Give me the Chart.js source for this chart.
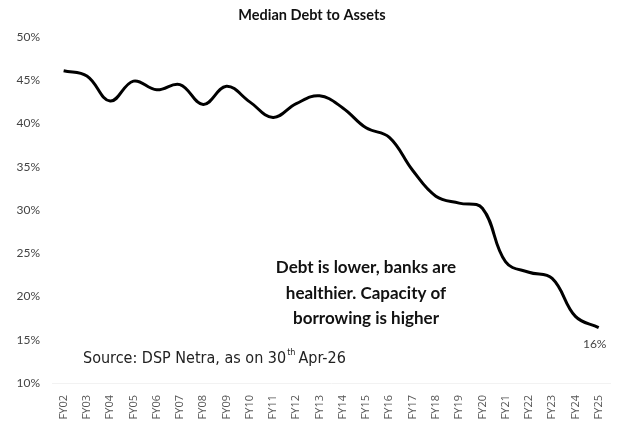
<!DOCTYPE html>
<html>
<head>
<meta charset="utf-8">
<script src="https://cdn.jsdelivr.net/npm/chart.js@4.4.1/dist/chart.umd.min.js"></script>
<style>
  html, body { margin: 0; padding: 0; background: #fff; }
  #wrap { width: 624px; height: 441px; }
</style>
</head>
<body>
<div id="wrap"><canvas id="debtChart" width="624" height="441"></canvas></div>
<script>
// Data
const years = ['FY02', 'FY03', 'FY04', 'FY05', 'FY06', 'FY07', 'FY08', 'FY09', 'FY10', 'FY11', 'FY12', 'FY13',
    'FY14', 'FY15', 'FY16', 'FY17', 'FY18', 'FY19', 'FY20', 'FY21', 'FY22', 'FY23', 'FY24', 'FY25'];
const debtToAssets = [46.1, 45.5, 42.6, 44.9, 43.9, 44.5, 42.2, 44.3, 42.5, 40.7, 42.3, 43.2,
    41.8, 39.5, 38.4, 34.6, 31.6, 30.8, 30.2, 24.0, 22.8, 22.1, 17.7, 16.4];
const yTicks = [10, 15, 20, 25, 30, 35, 40, 45, 50];
const chartTitle = 'Median Debt to Assets';
const noteLines = ['Debt is lower, banks are', 'healthier. Capacity of', 'borrowing is higher'];

// Text overlays: title, the note, the source line and the last value label
const overlayText = {
    id: 'overlayText',
    afterDraw(chart) {
        const ctx = chart.ctx;
        const x = chart.scales.x;
        const y = chart.scales.y;
        ctx.save();

        // title
        ctx.fillStyle = '#111';
        ctx.font = 'bold 14.5px Lato';
        ctx.textAlign = 'center';
        ctx.textBaseline = 'middle';
        ctx.fillText(chartTitle, 312, 15);

        // note in the middle
        ctx.font = 'bold 17px Lato';
        noteLines.forEach(function(line, i) {
            ctx.fillText(line, 366, 268 + i * 25.5);
        });

        // source line with superscript
        ctx.textAlign = 'left';
        ctx.textBaseline = 'alphabetic';
        ctx.fillStyle = '#222';
        const srcFont = '16px "DejaVu Sans Condensed"';
        ctx.font = srcFont;
        let sx = 83;
        const base = 363;
        const part1 = 'Source: DSP Netra, as on 30';
        ctx.fillText(part1, sx, base);
        sx += ctx.measureText(part1).width;
        ctx.font = '9px "DejaVu Sans Condensed"';
        ctx.fillText('th', sx + 1, base - 8);
        sx += ctx.measureText('th').width + 4;
        ctx.font = srcFont;
        ctx.fillText('Apr-26', sx, base);

        // last value label
        const last = debtToAssets.length - 1;
        ctx.font = '12px Lato';
        ctx.fillStyle = '#444';
        ctx.textAlign = 'center';
        ctx.textBaseline = 'middle';
        ctx.fillText(Math.round(debtToAssets[last]) + '%', x.getPixelForValue(last) - 4, y.getPixelForValue(debtToAssets[last]) + 16);

        ctx.restore();
    }
};

const ctxDebt = document.getElementById('debtChart').getContext('2d');
const debtChart = new Chart(ctxDebt, {
    type: 'line',
    data: {
        labels: years,
        datasets: [{
            label: chartTitle,
            data: debtToAssets,
            borderColor: '#000',
            borderWidth: 3,
            tension: 0.4,
            pointRadius: 0,
            fill: false,
        }]
    },
    options: {
        responsive: false,
        animation: false,
        layout: {
            padding: { left: 12, right: 5, top: 37, bottom: 0 }
        },
        scales: {
            x: {
                offset: true,
                grid: { display: false, tickLength: 0 },
                border: { display: true, color: '#f2f2f2' },
                afterFit: function(axis) { axis.height = 58; },
                ticks: {
                    color: '#555',
                    font: { family: 'Open Sans', size: 11 },
                    minRotation: 90,
                    maxRotation: 90,
                    autoSkip: false,
                    padding: 12,
                }
            },
            y: {
                min: yTicks[0],
                max: yTicks[yTicks.length - 1],
                afterBuildTicks: function(axis) {
                    axis.ticks = yTicks.map(function(v) { return { value: v }; });
                },
                afterFit: function(axis) { axis.width = 40; },
                grid: { display: false, tickLength: 0 },
                border: { display: false },
                ticks: {
                    color: '#444',
                    font: { family: 'Lato', size: 12 },
                    padding: 12,
                    callback: function(v) { return v + '%'; }
                }
            }
        },
        plugins: {
            legend: { display: false },
            tooltip: { enabled: false },
            title: { display: false }
        }
    },
    plugins: [overlayText]
});
</script>
</body>
</html>
